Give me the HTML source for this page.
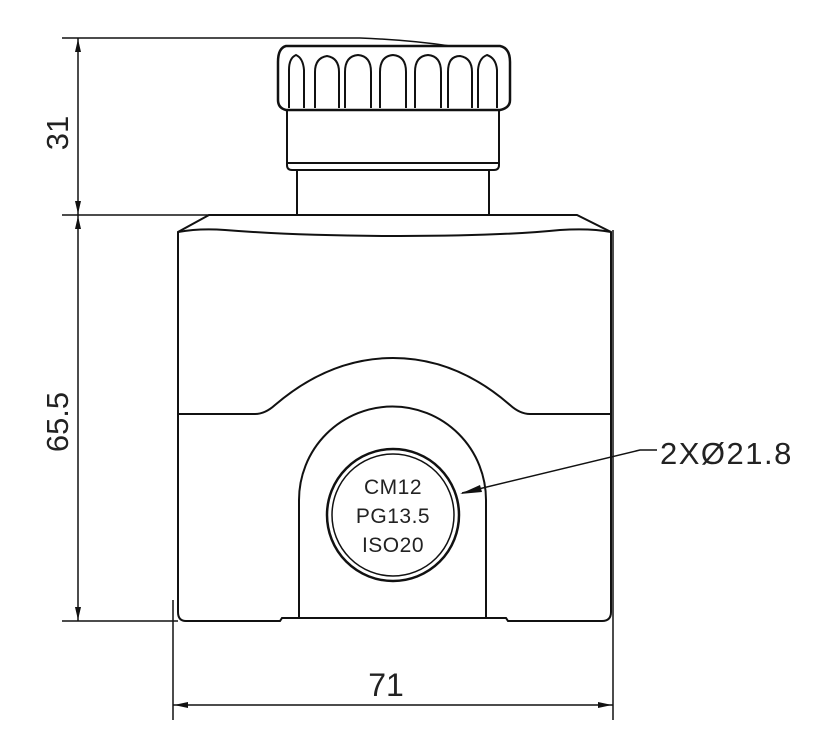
<!DOCTYPE html>
<html><head><style>html,body{margin:0;padding:0;background:#fff}</style></head>
<body>
<svg width="836" height="749" viewBox="0 0 836 749" xmlns="http://www.w3.org/2000/svg" font-family="Liberation Sans, sans-serif">
<g fill="none" stroke="#111" stroke-width="2">
<line x1="62" y1="38" x2="360" y2="38" stroke-width="1.5"/>
<path d="M360 38 Q410 40 450 46" stroke-width="1.5"/>
<line x1="62" y1="215" x2="209" y2="215" stroke-width="1.5"/>
<line x1="62" y1="621" x2="178" y2="621" stroke-width="1.5"/>
<line x1="78" y1="38" x2="78" y2="621" stroke-width="1.5"/>
<line x1="173" y1="600" x2="173" y2="720" stroke-width="1.5"/>
<line x1="613" y1="230" x2="613" y2="720" stroke-width="1.5"/>
<line x1="173" y1="705" x2="613" y2="705" stroke-width="1.5"/>
<path d="M286 46 L500 46 Q510 48 510 62 L510 100 Q510 108 500 110 L286 110 Q278 108 278 100 L278 62 Q278 48 286 46 Z" stroke-width="2.5"/>
<path d="M289 108 V70 Q289 58 296 55 Q303 58 304 70 V108"/>
<path d="M315 108 V72 Q315 58 327 56 Q339 58 339 72 V108"/>
<path d="M345 108 V72 Q345 56 358 55 Q371 56 371 72 V108"/>
<path d="M380 108 V72 Q380 56 393 55 Q406 56 406 72 V108"/>
<path d="M415 108 V72 Q415 56 428 55 Q441 56 441 72 V108"/>
<path d="M448 108 V72 Q448 56 460 56 Q472 58 472 72 V108"/>
<path d="M478 108 V70 Q479 58 487 55 Q496 58 497 70 V108"/>
<path d="M287 110 V165 Q287 170 292 170 L494 170 Q499 170 499 165 V110"/>
<line x1="287" y1="163" x2="499" y2="163"/>
<path d="M297 170 V215 M489 170 V215"/>
<path d="M209 215 L577 215 L611 232 L611 612 Q611 621 602 621 L508 621 L506 618 L282 618 L280 621 L186 621 Q178 621 178 612 L178 232 Z" stroke-width="2"/>
<path d="M178 232 Q200 228 225 230 Q300 236 400 236 Q500 236 560 230 Q590 228 611 232" stroke-width="2"/>
<path d="M178 414 L255 414 Q265 414 275 405 Q330 358 393 358 Q456 358 510 405 Q520 414 530 414 L611 414"/>
<path d="M299 618 V500 A93 93 0 0 1 486 500 V618"/>
<circle cx="393" cy="515" r="66" stroke-width="2.5"/>
<circle cx="393" cy="515" r="61" stroke-width="1.5"/>
<path d="M462 493 L640 450 L657 450" stroke-width="1.5"/>
</g>
<g fill="#111">
<polygon points="78,39 75,52 81,52"/>
<polygon points="78,214 75,201 81,201"/>
<polygon points="78,216 75,229 81,229"/>
<polygon points="78,620 75,607 81,607"/>
<polygon points="174,705 188,702 188,708"/>
<polygon points="612,705 598,702 598,708"/>
<polygon points="460,494 480,485 482,492"/>
</g>
<g fill="#222" font-size="21" text-anchor="middle" letter-spacing="0.5">
<text x="393" y="494">CM12</text>
<text x="393" y="523">PG13.5</text>
<text x="393" y="552">ISO20</text>
</g>
<text x="660" y="464" font-size="31" fill="#222" letter-spacing="1.5">2XØ21.8</text>
<text x="386" y="696" font-size="32" fill="#222" text-anchor="middle">71</text>
<text transform="translate(68,133) rotate(-90)" font-size="31" fill="#222" text-anchor="middle">31</text>
<text transform="translate(68,422) rotate(-90)" font-size="31" fill="#222" text-anchor="middle">65.5</text>
</svg>
</body></html>
